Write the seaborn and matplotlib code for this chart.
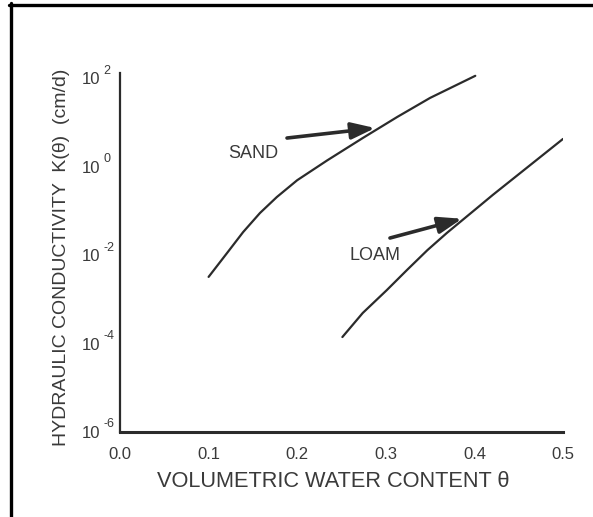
import matplotlib
matplotlib.use("Agg")
import matplotlib.pyplot as plt
from matplotlib.lines import Line2D
from matplotlib.ticker import FixedLocator, FuncFormatter, NullLocator
import matplotlib.transforms as mtransforms
import pandas as pd
import seaborn as sns

# Water content (theta) and hydraulic conductivity K (cm/d) for each soil
sand_theta = [0.100, 0.121, 0.139, 0.158, 0.177, 0.200, 0.234, 0.274, 0.313, 0.350, 0.401]
sand_k = [3.2e-3, 1.12e-2, 3.3e-2, 8.9e-2, 0.204, 0.49, 1.38, 4.4, 13.2, 35.5, 112.0]

loam_theta = [0.251, 0.274, 0.301, 0.324, 0.347, 0.369, 0.404, 0.421, 0.459, 0.500]
loam_k = [1.4e-4, 4.9e-4, 1.6e-3, 4.6e-3, 1.29e-2, 3.16e-2, 0.12, 0.23, 0.93, 4.2]

x_ticks = [0.0, 0.1, 0.2, 0.3, 0.4, 0.5]
y_exponents = [-6, -4, -2, 0, 2]

x_label = "VOLUMETRIC WATER CONTENT \u03b8"
y_label = "HYDRAULIC CONDUCTIVITY  K(\u03b8)  (cm/d)"

sns.set_theme(style="white")
plt.rcParams["font.family"] = ["Liberation Sans", "DejaVu Sans"]

ink = "#2b2b2b"
text_c = "#3a3a3a"

df = pd.concat([
    pd.DataFrame({"theta": sand_theta, "K": sand_k, "soil": "SAND"}),
    pd.DataFrame({"theta": loam_theta, "K": loam_k, "soil": "LOAM"}),
])

fig = plt.figure(figsize=(5.93, 5.17), dpi=100)
fig.patch.set_facecolor("white")
ax = fig.add_axes([120 / 593, 1 - 432 / 517, 443 / 593, (432 - 73) / 517])

sns.lineplot(data=df, x="theta", y="K", units="soil", estimator=None,
             color=ink, lw=1.6, sort=False, ax=ax, legend=False)

ax.set_yscale("log")
ax.set_xlim(0.0, 0.5)
ax.set_ylim(1e-6, 10 ** 2.113)

ax.xaxis.set_major_locator(FixedLocator(x_ticks))
ax.xaxis.set_major_formatter(FuncFormatter(lambda v, p: f"{v:.1f}"))
ax.yaxis.set_major_locator(FixedLocator([10.0 ** e for e in y_exponents]))
ax.yaxis.set_minor_locator(NullLocator())
ax.yaxis.set_major_formatter(FuncFormatter(lambda v, p: "10"))

ax.tick_params(axis="both", length=0, labelsize=12, labelcolor=text_c)
ax.tick_params(axis="x", pad=11)
ax.tick_params(axis="y", pad=14.5)

# Raised exponents next to each "10" on the y axis
ytrans = mtransforms.blended_transform_factory(ax.transAxes, ax.transData)
for e in y_exponents:
    ax.annotate(f"{e}", xy=(0, 10.0 ** e), xycoords=ytrans,
                xytext=(-16.5, 7.5), textcoords="offset pixels",
                ha="left", va="center", fontsize=9, color=text_c)

for side in ("top", "right"):
    ax.spines[side].set_visible(False)
ax.spines["left"].set_linewidth(1.6)
ax.spines["bottom"].set_linewidth(2.2)
ax.spines["left"].set_color(ink)
ax.spines["bottom"].set_color(ink)
ax.grid(False)
ax.set_facecolor("white")

ax.set_xlabel(x_label, fontsize=15.7, color=text_c)
ax.xaxis.set_label_coords(0.481, -0.108)
ax.set_ylabel(y_label, fontsize=14, color=text_c)
ax.yaxis.set_label_coords(-0.113, 0.487)

# Curve labels with arrows pointing to each curve
arrow_style = dict(arrowstyle="-|>,head_length=1.2,head_width=0.42",
                   color=ink, lw=2.6, shrinkA=0, shrinkB=0)
ax.annotate("", xy=(0.288, 7.4), xytext=(0.1885, 4.4), arrowprops=arrow_style)
ax.text(0.150, 2.0, "SAND", ha="center", va="center", fontsize=13, color=text_c)

ax.annotate("", xy=(0.386, 0.066), xytext=(0.3047, 0.0242), arrowprops=arrow_style)
ax.text(0.2878, 0.0098, "LOAM", ha="center", va="center", fontsize=13, color=text_c)

# Frame around the figure (left and top edges)
fig.add_artist(Line2D([10.5 / 593, 10.5 / 593], [0, 1 - 3 / 517],
                      transform=fig.transFigure, color="black", lw=2.4))
fig.add_artist(Line2D([9 / 593, 1], [1 - 4.5 / 517, 1 - 4.5 / 517],
                      transform=fig.transFigure, color="black", lw=2.4))

fig.savefig("out.png", dpi=100, facecolor="white")
